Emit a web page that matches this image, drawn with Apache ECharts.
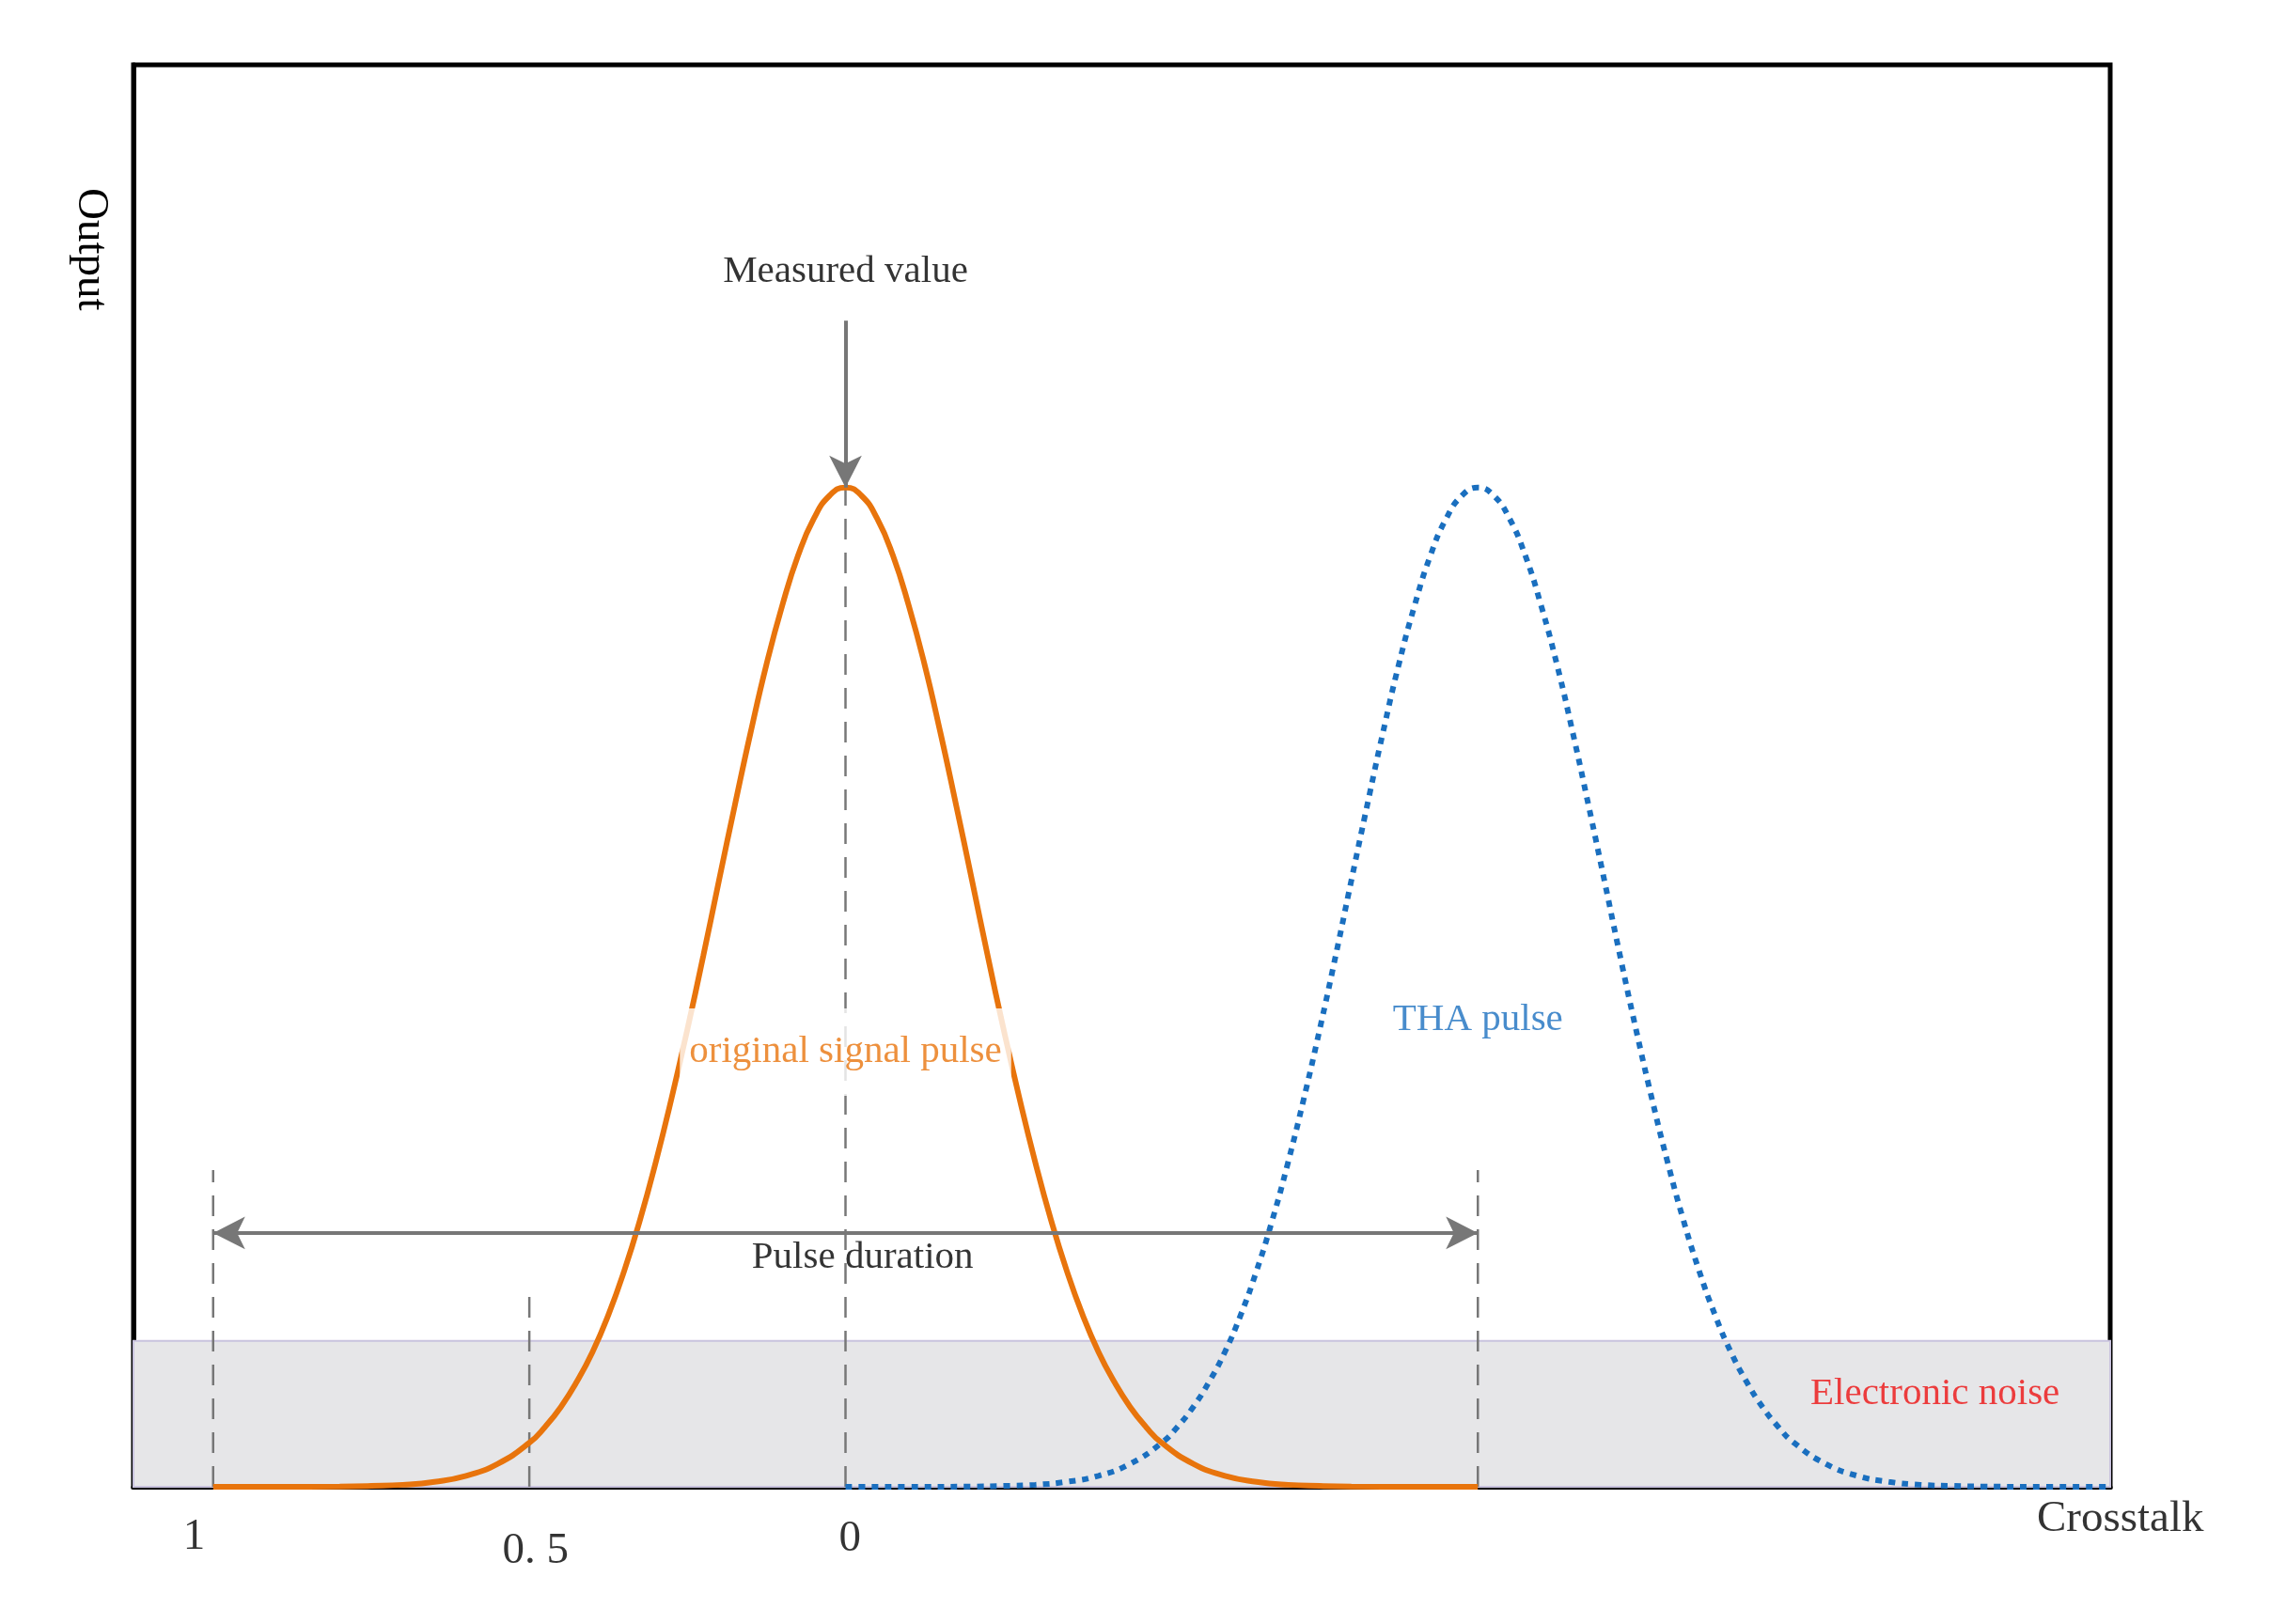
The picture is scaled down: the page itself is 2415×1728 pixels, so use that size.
<!DOCTYPE html>
<html><head><meta charset="utf-8">
<script src="https://cdn.jsdelivr.net/npm/echarts@6/dist/echarts.min.js"></script>
<style>html,body{margin:0;background:#fff}#c{width:2415px;height:1728px}</style>
</head><body><div id="c"></div>
<script>
// x positions (arbitrary time units), orange pulse centred at 0, THA pulse centred at 1
const pulseX = [-1,-0.9,-0.8,-0.75,-0.7,-0.65,-0.6,-0.55,-0.5,-0.475,-0.45,-0.425,-0.4,-0.375,-0.35,-0.325,-0.3,-0.275,-0.25,-0.225,-0.2,-0.175,-0.15,-0.125,-0.1,-0.075,-0.05,-0.025,0,0.025,0.05,0.075,0.1,0.125,0.15,0.175,0.2,0.225,0.25,0.275,0.3,0.325,0.35,0.375,0.4,0.425,0.45,0.475,0.5,0.55,0.6,0.65,0.7,0.75,0.8,0.9,1];
const pulseY = [0,0,0.0003,0.0009,0.002,0.005,0.011,0.023,0.044,0.06,0.08,0.105,0.135,0.172,0.216,0.267,0.325,0.389,0.458,0.531,0.607,0.682,0.755,0.823,0.882,0.932,0.969,0.992,1,0.992,0.969,0.932,0.882,0.823,0.755,0.682,0.607,0.531,0.458,0.389,0.325,0.267,0.216,0.172,0.135,0.105,0.08,0.06,0.044,0.023,0.011,0.005,0.002,0.0009,0.0003,0,0];
const thaShift = 1;
const noiseLevel = 0.146;
const durationY = 0.254;
const guideLines = [[-1,0.317],[-0.5,0.191],[0,1],[1,0.317]];
const tickLabels = [["1",-1.03,-0.05],["0. 5",-0.49,-0.065],["0",0.007,-0.052]];

const orange = pulseX.map((x,i)=>[x,pulseY[i]]);
const blue = pulseX.map((x,i)=>[x+thaShift,pulseY[i]]);
const font = 'Liberation Serif';
const txt = (text,x,y,color,size)=>({value:[x,y],label:{show:true,formatter:text,color:color||'#000',fontSize:size||41,fontFamily:font,position:'inside'}});

const series = [
 {type:'line',data:[[-1.2,0],[2.1,0]],symbol:'none',lineStyle:{width:0},
  markArea:{silent:true,itemStyle:{color:'#e6e6e8',borderColor:'#c9c3de',borderWidth:2},data:[[{coord:[-1.2,0]},{coord:[2.1,noiseLevel]}]]},z:1},
];
guideLines.forEach(g=>series.push({type:'line',data:[[g[0],0],[g[0],g[1]]],symbol:'none',
  lineStyle:{color:'#777',width:2.5,type:[22,14]},z:2}));
series.push({type:'line',data:orange,smooth:true,symbol:'none',lineStyle:{color:'#e8740c',width:6},z:3});
series.push({type:'line',data:blue,smooth:true,symbol:'none',lineStyle:{color:'#1a6fbf',width:6,type:[7,7]},z:3});
series.push({type:'line',data:[],markLine:{silent:true,symbol:['arrow','arrow'],symbolSize:[26,34],label:{show:false},
  lineStyle:{color:'#777',width:4,type:'solid'},data:[[{coord:[-1,durationY]},{coord:[1,durationY]}]]}});
series.push({type:'line',data:[],markLine:{silent:true,symbol:['none','arrow'],symbolSize:[26,34],label:{show:false},
  lineStyle:{color:'#777',width:4,type:'solid'},data:[[{coord:[0,1.167]},{coord:[0,1.0]}]]}});
const labels = [
 txt('Measured value',0,1.216),
 {value:[0,0.435],label:{show:true,formatter:'original signal pulse',color:'#e8740c',fontSize:41,fontFamily:font,backgroundColor:'#fff',padding:[26,10]}},
 txt('THA pulse',1,0.467,'#1a6fbf'),
 txt('Pulse duration',0.027,0.229),
 txt('Electronic noise',1.723,0.093,'#ee1111'),
 txt('Crosstalk',2.016,-0.033,'#000',47),
 ...tickLabels.map(t=>txt(t[0],t[1],t[2],'#000',47))
];
labels.forEach(l=>{l.label.position='inside';});
series.push({type:'scatter',data:labels,symbolSize:1,itemStyle:{color:'rgba(0,0,0,0)'},clip:false,z:10});

const chart = echarts.init(document.getElementById('c'));
chart.setOption({
 animation:false,
 grid:{left:142,right:170,top:69,bottom:146,show:true,borderColor:'#000',borderWidth:5,backgroundColor:'transparent'},
 xAxis:{type:'value',min:-1.126,max:2.0,axisLine:{show:true,onZero:false,lineStyle:{color:'#000',width:5}},axisTick:{show:false},axisLabel:{show:false},splitLine:{show:false}},
 yAxis:{type:'value',min:0,max:1.423,axisLine:{show:true,onZero:false,lineStyle:{color:'#000',width:5}},axisTick:{show:false},axisLabel:{show:false},splitLine:{show:false}},
 graphic:[{type:'text',left:73,top:200,rotation:-Math.PI/2,style:{text:'Output',font:'47px "Liberation Serif"',fill:'#000'}}],
 series
});
</script></body></html>
